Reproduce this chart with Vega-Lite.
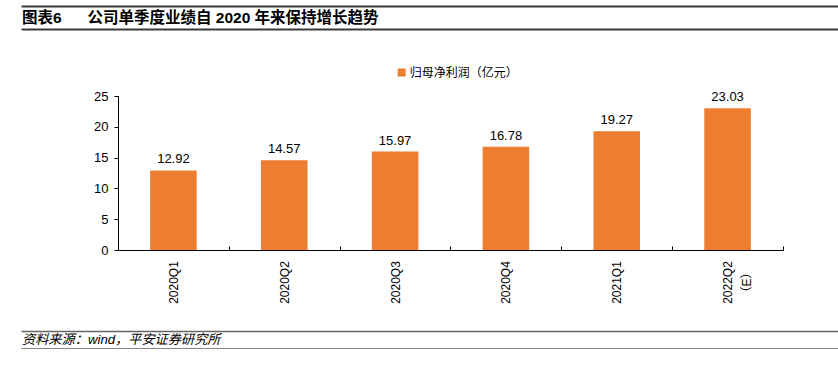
{
  "$schema": "https://vega.github.io/schema/vega-lite/v6.json",
  "background": "white",
  "padding": {"left": 15, "top": 6, "right": 0, "bottom": 0},
  "spacing": 27,
  "resolve": {"legend": {"color": "independent"}, "scale": {"color": "independent"}},
  "config": {
    "view": {"stroke": null},
    "font": "Liberation Sans, Noto Sans CJK SC",
    "axis": {"labelFont": "Liberation Sans, Noto Sans CJK SC", "labelColor": "#000"},
    "legend": {"labelFont": "Liberation Sans, Noto Sans CJK SC"}
  },
  "vconcat": [
    {
      "width": 817,
      "height": 23,
      "data": {"values": [{"label": "图表6\u00a0\u00a0\u00a0\u00a0\u00a0\u00a0公司单季度业绩自 2020 年来保持增长趋势"}]},
      "mark": {"type": "text", "align": "left", "baseline": "middle", "fontSize": 15.5, "fontWeight": "bold", "color": "#000", "dx": 1},
      "encoding": {
        "text": {"field": "label"},
        "x": {"datum": 0, "type": "quantitative", "scale": {"domain": [0, 1]}, "axis": null},
        "y": {"datum": 0.5, "type": "quantitative", "scale": {"domain": [0, 1]},
          "axis": {"values": [0, 1], "grid": true, "gridColor": "#3a3a3a", "gridWidth": 2, "domain": false, "ticks": false, "labels": false, "title": null, "minExtent": 0, "maxExtent": 0}}
      }
    },
    {
      "width": 762,
      "height": 154,
      "data": {"values": [
        {"q": "2020Q1", "v": 12.92, "s": "归母净利润（亿元）"},
        {"q": "2020Q2", "v": 14.57, "s": "归母净利润（亿元）"},
        {"q": "2020Q3", "v": 15.97, "s": "归母净利润（亿元）"},
        {"q": "2020Q4", "v": 16.78, "s": "归母净利润（亿元）"},
        {"q": "2021Q1", "v": 19.27, "s": "归母净利润（亿元）"},
        {"q": "2022Q2（E）", "v": 23.03, "s": "归母净利润（亿元）"}
      ]},
      "encoding": {
        "x": {"field": "q", "type": "nominal", "sort": null,
          "scale": {"paddingInner": 0, "paddingOuter": 0, "range": [97, 762]},
          "axis": {"title": null, "labelAngle": -90, "labelAlign": "center", "labelBaseline": "middle", "labelFontSize": 12, "tickBand": "extent", "tickSize": -4, "tickColor": "#000", "domainColor": "#000", "labelPadding": 36, "labelLineHeight": 19,
            "labelExpr": "datum.value == '2022Q2（E）' ? ['2022Q2', '（E）'] : datum.value"}},
        "y": {"field": "v", "type": "quantitative",
          "scale": {"domain": [0, 25]},
          "axis": {"title": null, "values": [0, 5, 10, 15, 20, 25], "grid": false, "tickSize": 4, "labelPadding": 6, "labelFontSize": 13, "tickColor": "#000", "domainColor": "#000", "offset": -97, "minExtent": 0, "titlePadding": 0}}
      },
      "layer": [
        {
          "mark": {"type": "bar", "width": {"band": 0.42}},
          "encoding": {
            "color": {"field": "s", "type": "nominal", "scale": {"range": ["#ED7D31"]},
              "legend": {"title": null, "orient": "none", "legendX": 364.7, "legendY": -39.5, "padding": 10, "symbolType": "square", "symbolSize": 64, "symbolStrokeWidth": 0, "labelFontSize": 12, "labelOffset": 2, "labelColor": "#000"}}
          }
        },
        {
          "mark": {"type": "text", "baseline": "alphabetic", "dy": -7, "fontSize": 13, "color": "#000"},
          "encoding": {"text": {"field": "v", "type": "quantitative", "format": ".2f"}}
        }
      ]
    },
    {
      "width": 817,
      "height": 18,
      "data": {"values": [{"label": "资料来源：wind，平安证券研究所"}]},
      "mark": {"type": "text", "align": "left", "baseline": "middle", "fontSize": 13.2, "fontStyle": "italic", "color": "#000", "dx": 1},
      "encoding": {
        "text": {"field": "label"},
        "x": {"datum": 0, "type": "quantitative", "scale": {"domain": [0, 1]}, "axis": null},
        "y": {"datum": 0.5, "type": "quantitative", "scale": {"domain": [0, 1]},
          "axis": {"values": [0, 1], "grid": true,
            "gridColor": {"condition": {"test": "datum.value === 1", "value": "#666666"}, "value": "#111111"},
            "gridWidth": {"condition": {"test": "datum.value === 1", "value": 1.3}, "value": 2},
            "domain": false, "ticks": false, "labels": false, "title": null, "minExtent": 0, "maxExtent": 0}}
      }
    }
  ]
}
